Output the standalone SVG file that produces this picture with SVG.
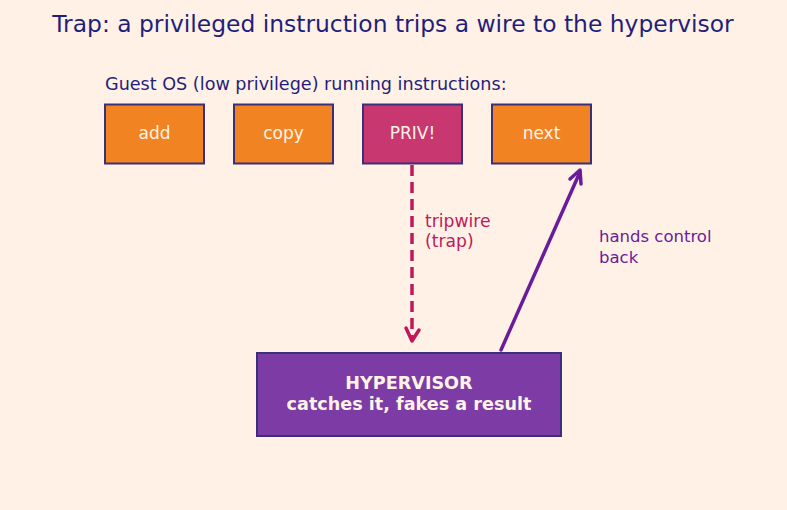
<svg xmlns="http://www.w3.org/2000/svg" width="787" height="510" viewBox="0 0 787 510">
<defs>
<style>
text{font-family:"DejaVu Sans","Noto Sans",sans-serif}
.op rect{fill:#F28322;stroke:#3B2F7A;stroke-width:2}
.op text{fill:#FFF3E6;font-size:17px;text-anchor:middle}
</style>
</defs>
<rect width="787" height="510" fill="#FFF1E6"/>
<text x="393" y="32" font-size="23.4" fill="#1F1F7A" text-anchor="middle">Trap: a privileged instruction trips a wire to the hypervisor</text>
<text x="105" y="90" font-size="17.6" fill="#1F1F7A">Guest OS (low privilege) running instructions:</text>
<g id="connectors">
<line x1="412" y1="165" x2="412" y2="340" stroke="#C2185B" stroke-width="3.5" stroke-dasharray="11,6"/>
<path d="M406 328 L412 341 L419 330" fill="none" stroke="#C2185B" stroke-width="3.5" stroke-linecap="round" stroke-linejoin="round"/>
<line x1="501" y1="350" x2="580" y2="172" stroke="#6A1B9A" stroke-width="3.5" stroke-linecap="round"/>
<path d="M570 179 L580 170 L581 184" fill="none" stroke="#6A1B9A" stroke-width="3.5" stroke-linecap="round" stroke-linejoin="round"/>
<text x="425" y="227" font-size="17.2" fill="#C2185B">tripwire</text>
<text x="425" y="247" font-size="17.2" fill="#C2185B">(trap)</text>
<text x="599" y="242" font-size="16.5" fill="#6A1B9A">hands control</text>
<text x="599" y="263" font-size="16.5" fill="#6A1B9A">back</text>
</g>
<g id="add" class="op"><rect x="105" y="104.5" width="99" height="59"/><text x="154.5" y="139">add</text></g>
<g id="copy" class="op"><rect x="234" y="104.5" width="99" height="59"/><text x="283.5" y="139">copy</text></g>
<g id="priv" class="op"><rect x="363" y="104.5" width="99" height="59" style="fill:#C83770"/><text x="412.5" y="139">PRIV!</text></g>
<g id="next" class="op"><rect x="492" y="104.5" width="99" height="59"/><text x="541.5" y="139">next</text></g>
<g id="hypervisor">
<rect x="257" y="353" width="304" height="83" fill="#7D3BA5" stroke="#3B2F7A" stroke-width="2"/>
<text x="409" y="389" font-size="17.6" font-weight="bold" fill="#FFF3E6" text-anchor="middle">HYPERVISOR</text>
<text x="409" y="410" font-size="17.6" font-weight="bold" fill="#FFF3E6" text-anchor="middle">catches it, fakes a result</text>
</g>
</svg>
